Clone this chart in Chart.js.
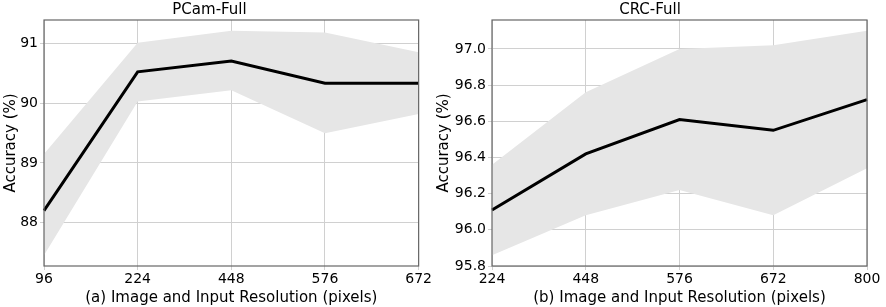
<!DOCTYPE html>
<html>
<head>
<meta charset="utf-8">
<script src="https://cdn.jsdelivr.net/npm/chart.js@4.4.0/dist/chart.umd.min.js"></script>
<style>
  body { margin: 0; background: #fff; }
  .wrap { display: flex; width: 886px; height: 307px; }
  #a { width: 433px; height: 307px; }
  #b { width: 453px; height: 307px; }
</style>
</head>
<body>
<div class="wrap">
  <div id="a"><canvas id="pcam" width="433" height="307"></canvas></div>
  <div id="b"><canvas id="crc" width="453" height="307"></canvas></div>
</div>
<script>
// PCam-Full
const pcamRes = ['96', '224', '448', '576', '672']
const pcamAcc = [88.20, 90.53, 90.71, 90.34, 90.34]
const pcamHigh = [89.15, 91.02, 91.22, 91.19, 90.86]
const pcamLow = [87.45, 90.03, 90.22, 89.50, 89.82]
const pcamTicks = [88, 89, 90, 91]

// CRC-Full
const crcRes = ['224', '448', '576', '672', '800']
const crcAcc = [96.11, 96.42, 96.61, 96.55, 96.72]
const crcHigh = [96.36, 96.76, 97.00, 97.02, 97.10]
const crcLow = [95.86, 96.08, 96.22, 96.08, 96.34]
const crcTicks = [95.8, 96.0, 96.2, 96.4, 96.6, 96.8, 97.0]

const font = 'DejaVu Sans'

// box round the plot area, like matplotlib spines
const frame = {
    id: 'frame',
    afterDraw(chart) {
        const a = chart.chartArea
        const c = chart.ctx
        c.save()
        c.strokeStyle = '#666'
        c.lineWidth = 1.2
        c.strokeRect(a.left, a.top, a.right - a.left, a.bottom - a.top)
        c.restore()
    }
}

const make = (id, title, xTitle, labels, acc, high, low, ticks, min, max, digits, yWidth, padRight) => {
    new Chart(document.getElementById(id), {
        type: 'line',
        data: {
            labels,
            datasets: [
                {
                    data: high,
                    borderWidth: 0,
                    borderColor: 'rgba(0,0,0,0)',
                    backgroundColor: '#e6e6e6',
                    pointRadius: 0,
                    fill: '+1',
                    tension: 0,
                    order: 2,
                },
                {
                    data: low,
                    borderWidth: 0,
                    borderColor: 'rgba(0,0,0,0)',
                    pointRadius: 0,
                    fill: false,
                    order: 2,
                },
                {
                    data: acc,
                    borderWidth: 3,
                    borderColor: '#000',
                    pointRadius: 0,
                    fill: false,
                    tension: 0,
                    order: 1,
                },
            ]
        },
        options: {
            responsive: false,
            animation: false,
            layout: { padding: { top: 0, right: padRight, left: 0, bottom: 0 } },
            plugins: {
                legend: { display: false },
                tooltip: { enabled: false },
                title: {
                    display: true,
                    text: title,
                    color: '#000',
                    font: { family: font, size: 15, weight: 'normal', lineHeight: 1 },
                    padding: { top: 3, bottom: 2 },
                },
            },
            scales: {
                x: {
                    offset: false,
                    grid: { color: '#d0d0d0', lineWidth: 1, drawTicks: true, tickLength: 4, offset: false },
                    border: { display: false },
                    ticks: { color: '#000', font: { family: font, size: 14 }, maxRotation: 0, padding: 1, autoSkip: false },
                    title: { display: true, text: xTitle, color: '#000', font: { family: font, size: 15 }, padding: { top: 0, bottom: 0 } },
                    afterFit: s => { s.height = 41 },
                },
                y: {
                    min,
                    max,
                    grid: { color: '#d0d0d0', lineWidth: 1, tickLength: 4 },
                    border: { display: false },
                    afterBuildTicks: s => { s.ticks = ticks.map(v => ({ value: v })) },
                    ticks: { color: '#000', font: { family: font, size: 14 }, padding: 2, callback: v => v.toFixed(digits) },
                    title: { display: true, text: 'Accuracy (%)', color: '#000', font: { family: font, size: 15 }, padding: { top: 2, bottom: 1 } },
                    afterFit: s => { s.width = yWidth },
                },
            },
        },
        plugins: [frame],
    })
}

make('pcam', 'PCam-Full', '(a) Image and Input Resolution (pixels)', pcamRes, pcamAcc, pcamHigh, pcamLow, pcamTicks, 87.27, 91.4, 0, 44, 14)
make('crc', 'CRC-Full', '(b) Image and Input Resolution (pixels)', crcRes, crcAcc, crcHigh, crcLow, crcTicks, 95.8, 97.16, 1, 59, 19)
</script>
</body>
</html>
